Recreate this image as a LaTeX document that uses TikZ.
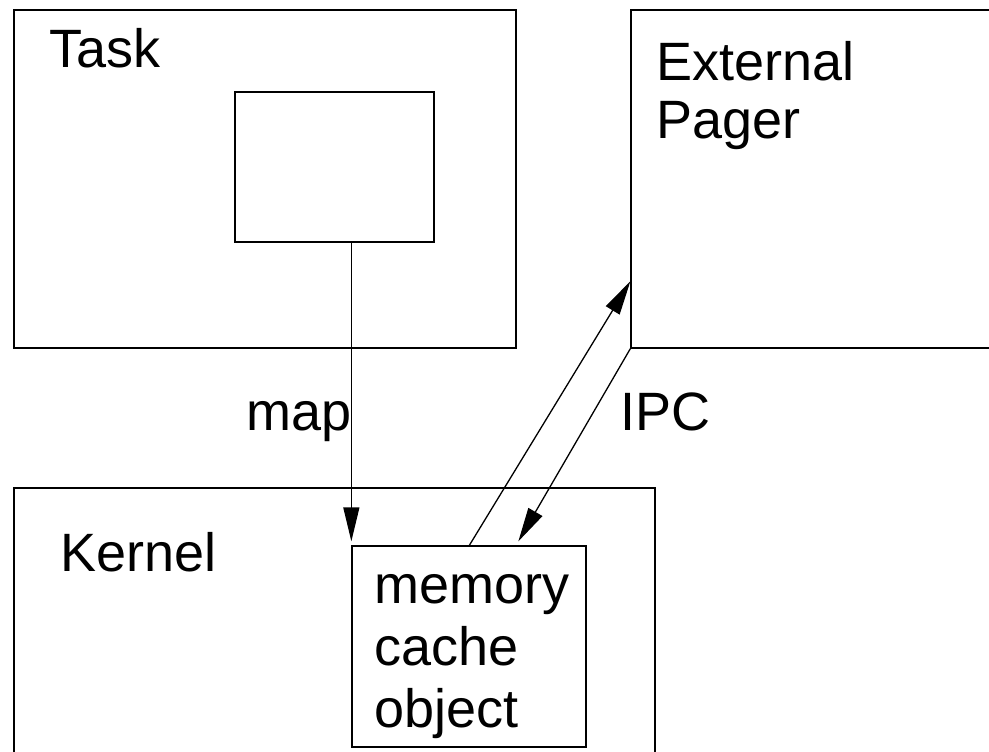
\documentclass[tikz,border=0pt]{standalone}
\usepackage{fontspec}
\setmainfont{Liberation Sans}
\usetikzlibrary{arrows.meta,calc}
\begin{document}
\begin{tikzpicture}[x=1pt,y=-1pt,
  box/.style={draw,line width=1.3pt,inner sep=0pt},
  lbl/.style={anchor=base west,inner sep=0pt,font=\fontsize{54}{62}\selectfont},
  conn/.style={line width=1.3pt,-{Triangle[length=34pt,width=16pt]}}]
\path[clip] (0,0) rectangle (989,752);
\fill[white] (0,0) rectangle (989,752);
% boxes
\node[box,minimum width=502pt,minimum height=338pt] (task) at (265,179) {};
\node[box,minimum width=199pt,minimum height=150pt] (inner) at (334.5,167) {};
\node[box,minimum width=419pt,minimum height=338pt] (ext) at (840.5,179) {};
\node[box,minimum width=641pt,minimum height=320pt] (kernel) at (334.5,648) {};
\node[box,minimum width=234pt,minimum height=201pt,fill=white] (mem) at (469,646.5) {};
% labels
\node[lbl] (tasklbl) at (49,68) {Task};
\node[lbl] (extlbl1) at (656,81) {External};
\node[lbl] (extlbl2) at (656,139) {Pager};
\node[lbl] (maplbl) at (246,430) {map};
\node[lbl] (ipclbl) at (620,430) {IPC};
\node[lbl] (kernlbl) at (60,571) {Kernel};
\node[lbl] (mem1) at (374,603) {memory};
\node[lbl] (mem2) at (374,665) {cache};
\node[lbl] (mem3) at (374,727) {object};
% connectors
\coordinate (upstart) at ($(mem.north west)+(118,0)$);
\coordinate (upend) at ($(ext.north west)+(0,272)$);
\coordinate (downend) at ($(mem.north west)+(167,-4)$);
\draw[conn] (inner.south -| mem.north west) -- ($(mem.north west)+(0,-4)$);
\draw[conn] (upstart) -- (upend);
\draw[conn] (ext.south west) -- (downend);
\end{tikzpicture}
\end{document}
